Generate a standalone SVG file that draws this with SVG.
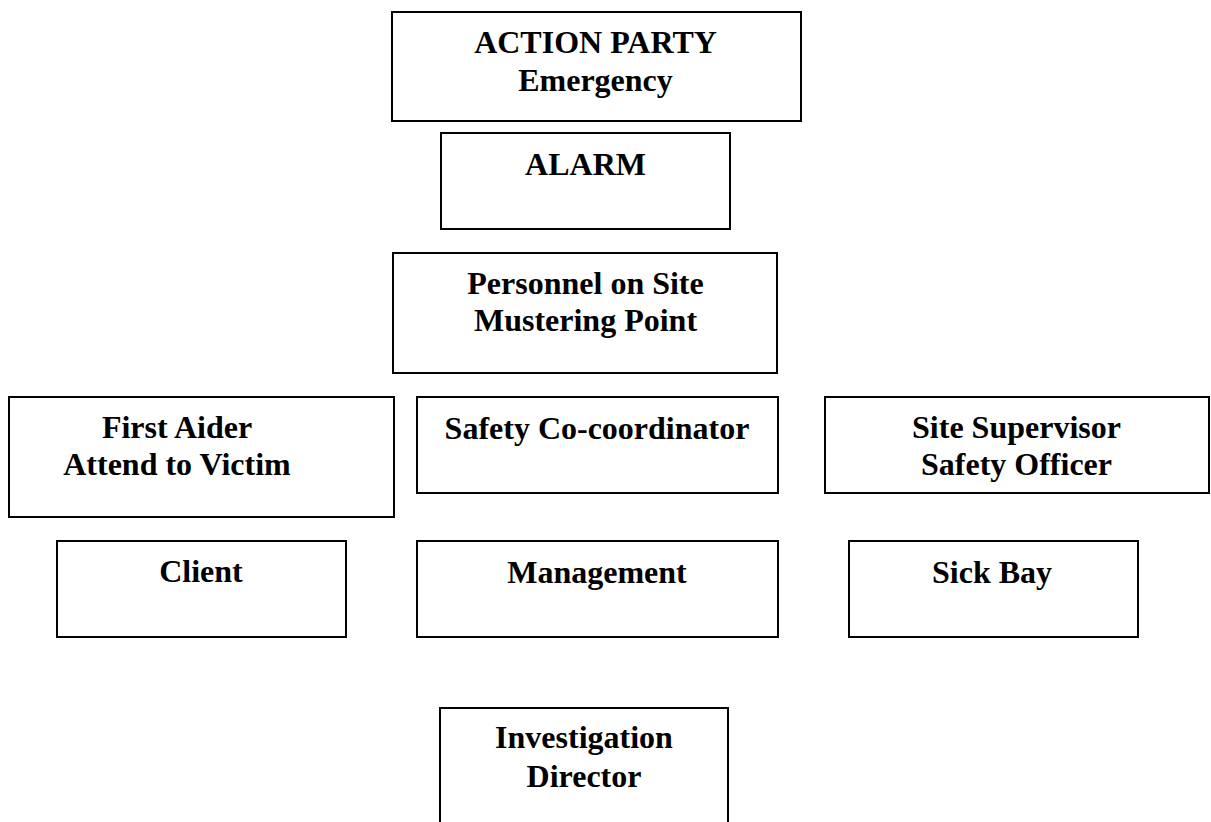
<svg xmlns="http://www.w3.org/2000/svg" width="1211" height="822" viewBox="0 0 1211 822">
<style>
.box{fill:#fff;stroke:#000;stroke-width:2}
.t{font-family:"Liberation Serif","Times New Roman",serif;font-weight:bold;font-size:32px;fill:#000;text-anchor:middle}
</style>
<rect width="1211" height="822" fill="#fff"/>
<g id="connectors"/>
<g id="action-party">
<rect class="box" x="392" y="12" width="409" height="109"/>
<text class="t" x="595.5" y="53">ACTION PARTY</text>
<text class="t" x="595.5" y="91">Emergency</text>
</g>
<g id="alarm">
<rect class="box" x="441" y="133" width="289" height="96"/>
<text class="t" x="585.5" y="175">ALARM</text>
</g>
<g id="personnel">
<rect class="box" x="393" y="253" width="384" height="120"/>
<text class="t" x="585.5" y="294">Personnel on Site</text>
<text class="t" x="585.5" y="331">Mustering Point</text>
</g>
<g id="first-aider">
<rect class="box" x="9" y="397" width="385" height="120"/>
<text class="t" x="177" y="438">First Aider</text>
<text class="t" x="177" y="475">Attend to Victim</text>
</g>
<g id="safety-coordinator">
<rect class="box" x="417" y="397" width="361" height="96"/>
<text class="t" x="597" y="439">Safety Co-coordinator</text>
</g>
<g id="site-supervisor">
<rect class="box" x="825" y="397" width="384" height="96"/>
<text class="t" x="1016.5" y="438">Site Supervisor</text>
<text class="t" x="1016.5" y="475">Safety Officer</text>
</g>
<g id="client">
<rect class="box" x="57" y="541" width="289" height="96"/>
<text class="t" x="201" y="582">Client</text>
</g>
<g id="management">
<rect class="box" x="417" y="541" width="361" height="96"/>
<text class="t" x="597" y="583">Management</text>
</g>
<g id="sick-bay">
<rect class="box" x="849" y="541" width="289" height="96"/>
<text class="t" x="992" y="583">Sick Bay</text>
</g>
<g id="investigation">
<rect class="box" x="440" y="708" width="288" height="130"/>
<text class="t" x="584" y="748">Investigation</text>
<text class="t" x="584" y="787">Director</text>
</g>
</svg>
